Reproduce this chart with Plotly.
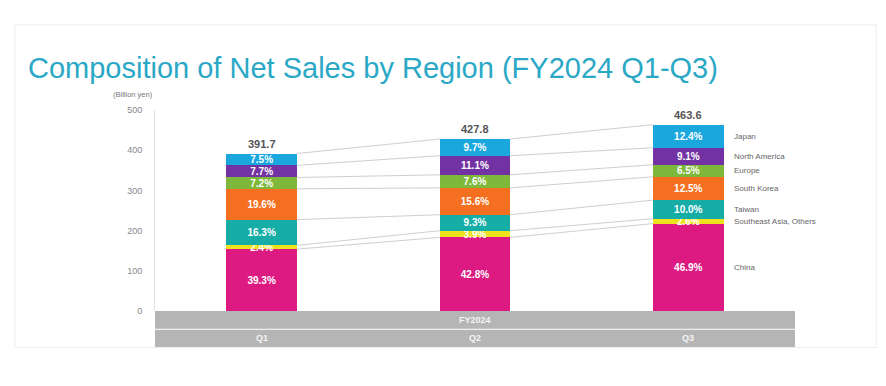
import plotly.graph_objects as go

quarters = ["Q1", "Q2", "Q3"]
totals = [391.7, 427.8, 463.6]
regions = ["China", "Southeast Asia, Others", "Taiwan", "South Korea", "Europe", "North America", "Japan"]
pct_china = [39.3, 42.8, 46.9]
pct_sea = [2.4, 3.9, 2.6]
pct_taiwan = [16.3, 9.3, 10.0]
pct_korea = [19.6, 15.6, 12.5]
pct_europe = [7.2, 7.6, 6.5]
pct_na = [7.7, 11.1, 9.1]
pct_japan = [7.5, 9.7, 12.4]
colors = ["#DC1A82", "#EDE21B", "#16ADA6", "#F46F1F", "#7DB83A", "#7232A3", "#1AA7DE"]
yticks = [0, 100, 200, 300, 400, 500]

pcts = [pct_china, pct_sea, pct_taiwan, pct_korea, pct_europe, pct_na, pct_japan]
xs = list(range(len(quarters)))
W = 0.33
FONT = "Liberation Sans, Arial"

fig = go.Figure()
cum = [[0.0] * len(quarters)]
for name, p, c in zip(regions, pcts, colors):
    vals = [t * v / 100 for t, v in zip(totals, p)]
    fig.add_trace(go.Bar(
        x=xs, y=vals, name=name, width=W, marker=dict(color=c, line=dict(width=0)),
        text=[f"<b>{v:.1f}%</b>" for v in p], textposition="inside", insidetextanchor="middle",
        textfont=dict(color="white", size=10, family=FONT),
        hoverinfo="skip", showlegend=False))
    cum.append([a + b for a, b in zip(cum[-1], vals)])

# connecting lines between segment boundaries
for level in cum[1:]:
    for i in range(len(quarters) - 1):
        fig.add_trace(go.Scatter(
            x=[xs[i] + W / 2, xs[i + 1] - W / 2], y=[level[i], level[i + 1]],
            mode="lines", line=dict(color="#cfcfcf", width=1),
            hoverinfo="skip", showlegend=False))

ann = []
for i, t in enumerate(totals):
    ann.append(dict(x=xs[i], y=t, text=f"<b>{t:.1f}</b>", showarrow=False, yshift=10,
                    font=dict(size=11, color="#555", family=FONT)))
last = len(quarters) - 1
for k, name in enumerate(regions):
    mid = (cum[k][last] + cum[k + 1][last]) / 2
    ann.append(dict(x=xs[last] + W / 2, y=mid, text=name, showarrow=False, xanchor="left",
                    xshift=8, font=dict(size=8, color="#666", family=FONT)))
# category band labels
ann.append(dict(x=1, y=-0.045, xref="x", yref="paper", yanchor="middle", text="<b>FY2024</b>",
                showarrow=False, font=dict(size=9, color="#f4f4f4", family=FONT)))
for i, q in enumerate(quarters):
    ann.append(dict(x=xs[i], y=-0.136, xref="x", yref="paper", yanchor="middle", text=f"<b>{q}</b>",
                    showarrow=False, font=dict(size=9, color="#f4f4f4", family=FONT)))
ann.append(dict(x=-0.034, y=1.075, xref="paper", yref="paper", yanchor="middle", text="(Billion yen)",
                showarrow=False, xanchor="center", font=dict(size=7.5, color="#777", family=FONT)))

shapes = [
    dict(type="rect", xref="paper", yref="paper", x0=0, x1=1, y0=-0.088, y1=0,
         fillcolor="#b5b5b5", line=dict(width=0), layer="below"),
    dict(type="rect", xref="paper", yref="paper", x0=0, x1=1, y0=-0.179, y1=-0.093,
         fillcolor="#b5b5b5", line=dict(width=0), layer="below"),
    dict(type="rect", xref="paper", yref="paper", x0=-0.219, x1=1.127, y0=-0.182, y1=1.423,
         fillcolor="rgba(0,0,0,0)", line=dict(color="#ededed", width=1), layer="below"),
]

fig.update_layout(
    width=878, height=378,
    margin=dict(l=147, r=91, t=102, b=75),
    paper_bgcolor="white", plot_bgcolor="white",
    barmode="stack",
    title=dict(text="Composition of Net Sales by Region (FY2024 Q1-Q3)",
               x=0, xref="container", xanchor="left", y=0.841, yanchor="middle",
               pad=dict(l=20),
               font=dict(size=29, color="#2AA8C6", family=FONT)),
    xaxis=dict(range=[-0.5, 2.5], showticklabels=False, showgrid=False, zeroline=False,
               fixedrange=True),
    yaxis=dict(range=[0, 500], tickvals=yticks, showgrid=False, zeroline=False,
               showline=True, linecolor="#e2e2e2", linewidth=1, ticks="",
               ticklabelstandoff=10,
               tickfont=dict(size=9, color="#888", family=FONT)),
    uniformtext=dict(minsize=10, mode="show"),
    annotations=ann, shapes=shapes,
)
fig.write_html("out.html")
